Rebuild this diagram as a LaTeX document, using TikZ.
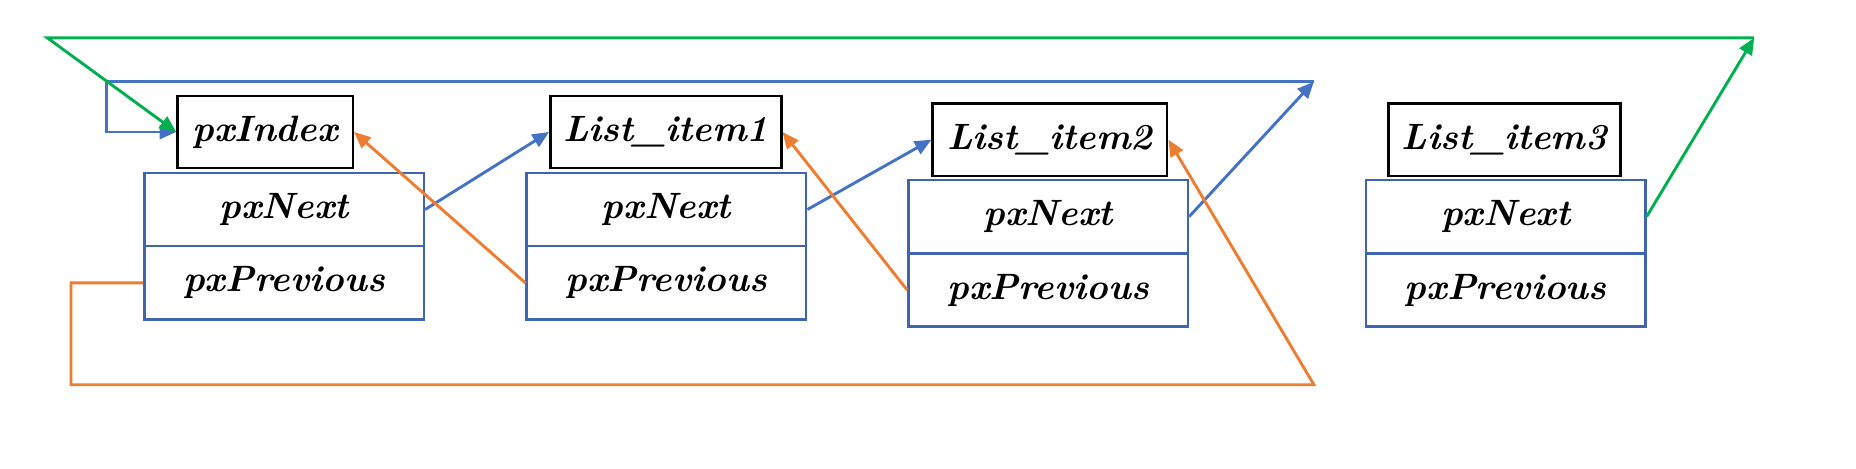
\documentclass[tikz,border=0pt]{standalone}
\usepackage{tikz}
\usetikzlibrary{calc,arrows.meta}
\usepackage{xcolor}
\definecolor{nextblue}{HTML}{4472C4}
\definecolor{cellblue}{HTML}{3F65AF}
\definecolor{prevorange}{HTML}{ED7D31}
\definecolor{endgreen}{HTML}{00B050}

\begin{document}
\begin{tikzpicture}
[x=0.01cm,y=-0.01cm,>={Triangle[length=4pt,width=3.4pt]},
 title/.style={draw,line width=0.6pt,minimum height=0.61cm,inner sep=0pt,font=\fontsize{8.8}{11}\selectfont\bfseries\itshape},
 cell/.style={draw=cellblue,line width=0.6pt,minimum width=2.36cm,minimum height=0.62cm,inner sep=0pt,font=\fontsize{8.8}{11}\selectfont\bfseries\itshape},
 nextline/.style={nextblue,line width=0.7pt},
 prevline/.style={prevorange,line width=0.7pt},
 endline/.style={endgreen,line width=0.7pt},]

\useasboundingbox (0,0) rectangle (1568,396);

%Index and list item titles
\node (idx) at (224,111.5)[title,minimum width=1.48cm] {pxIndex};
\node (T1) at (562.5,111.5)[title,minimum width=1.95cm] {List\_item1};
\node (T2) at (887,118)[title,minimum width=1.98cm] {List\_item2};
\node (T3) at (1271,118)[title,minimum width=1.96cm] {List\_item3};

%Next and previous cells
\node (N0) at (240,177)[cell] {pxNext};
\node (P0) at (240,239)[cell] {pxPrevious};
\node (N1) at (563,177)[cell] {pxNext};
\node (P1) at (563,239)[cell] {pxPrevious};
\node (N2) at (885.5,183)[cell] {pxNext};
\node (P2) at (885.5,245)[cell] {pxPrevious};
\node (N3) at (1272,183)[cell] {pxNext};
\node (P3) at (1272,245)[cell] {pxPrevious};

%Corner points of the wrap-around lines
\coordinate (gs) at (40,32);
\coordinate (ge) at (1482,32);
\coordinate (bs) at (90,69);
\coordinate (be) at (1110,69);
\coordinate (ob) at (60,325);
\coordinate (oe) at (1110,325);

%pxNext links
\draw[nextline,->] (N0.east) -- (T1.west);
\draw[nextline,->] (N1.east) -- (T2.west);
\draw[nextline,->] (N2.east) -- (be);
\draw[nextline,->] (be) -- (bs) |- (idx.west);

%pxPrevious links
\draw[prevline,->] (P1.west) -- (idx.east);
\draw[prevline,->] (P2.west) -- (T1.east);
\draw[prevline,->] (P0.west) -| (ob) -- (oe) -- (T2.east);

%End marker
\draw[endline,->] (N3.east) -- (ge);
\draw[endline,->] (ge) -- (gs) -- (idx.west);
\end{tikzpicture}
\end{document}
